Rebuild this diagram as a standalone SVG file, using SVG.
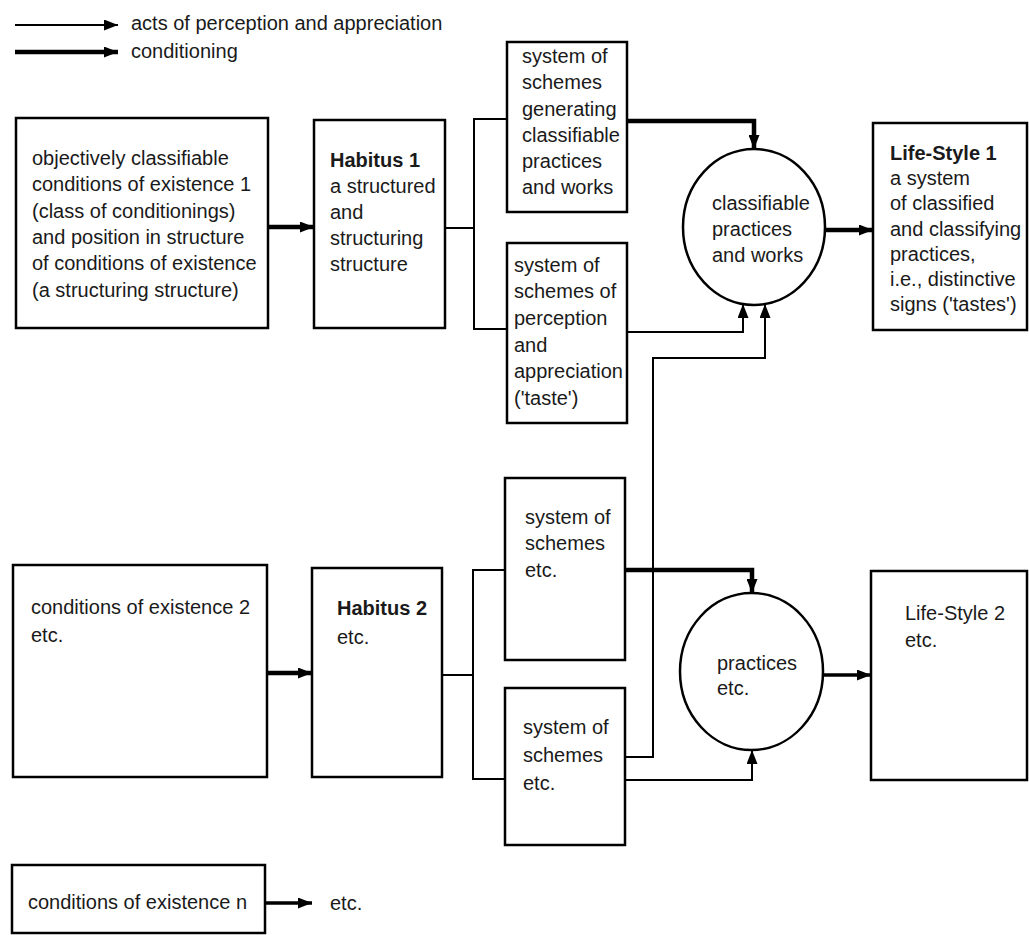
<svg xmlns="http://www.w3.org/2000/svg" width="1029" height="935" viewBox="0 0 1029 935">
<style>
text{font-family:"Liberation Sans",Arial,sans-serif;font-size:20px;fill:#1a1a1a}
.b{font-weight:bold}
.box{fill:#fff;stroke:#000;stroke-width:2.5}
.thin{fill:none;stroke:#000;stroke-width:2}
.thick{fill:none;stroke:#000;stroke-width:4.5}
.med{fill:none;stroke:#000;stroke-width:3.5}
</style>
<defs>
<marker id="ah" markerUnits="userSpaceOnUse" markerWidth="14" markerHeight="11" refX="14" refY="5.5" orient="auto">
<path d="M0,0 L14,5.5 L0,11 z" fill="#000"/>
</marker>
</defs>
<g id="legend">
<line class="thin" x1="15" y1="25" x2="118" y2="25" marker-end="url(#ah)"/>
<line class="thick" x1="15" y1="52" x2="118" y2="52" marker-end="url(#ah)"/>
<text x="131" y="30">acts of perception and appreciation</text>
<text x="131" y="58">conditioning</text>
</g>
<g id="connectors">
<line class="thick" x1="268" y1="227" x2="314" y2="227" marker-end="url(#ah)"/>
<line class="thin" x1="445" y1="228" x2="474" y2="228"/>
<path class="thin" d="M507,119 H474 V329 H507"/>
<path class="thick" d="M627,121 H754 V149" marker-end="url(#ah)"/>
<path class="thin" d="M627,332 H743 V304" marker-end="url(#ah)"/>
<path class="thin" d="M625,757 H653 V358 H765 V304" marker-end="url(#ah)"/>
<line class="thick" x1="825" y1="230" x2="873" y2="230" marker-end="url(#ah)"/>
<line class="thick" x1="267" y1="673" x2="312" y2="673" marker-end="url(#ah)"/>
<line class="thin" x1="442" y1="675" x2="473" y2="675"/>
<path class="thin" d="M505,570 H473 V779 H505"/>
<path class="thick" d="M625,570 H752 V593" marker-end="url(#ah)"/>
<path class="thin" d="M625,780 H752 V750" marker-end="url(#ah)"/>
<line class="med" x1="823" y1="675" x2="871" y2="675" marker-end="url(#ah)"/>
<line class="med" x1="265" y1="903" x2="312" y2="903" marker-end="url(#ah)"/>
</g>
<g id="conditions1">
<rect class="box" x="16" y="118" width="252" height="210"/>
<text x="32" y="165">objectively classifiable</text>
<text x="32" y="191">conditions of existence 1</text>
<text x="32" y="218">(class of conditionings)</text>
<text x="32" y="244">and position in structure</text>
<text x="32" y="270">of conditions of existence</text>
<text x="32" y="297">(a structuring structure)</text>
</g>
<g id="habitus1">
<rect class="box" x="314" y="120" width="131" height="208"/>
<text x="330" y="167" class="b">Habitus 1</text>
<text x="330" y="193">a structured</text>
<text x="330" y="219">and</text>
<text x="330" y="245">structuring</text>
<text x="330" y="271">structure</text>
</g>
<g id="schemes-generating">
<rect class="box" x="507" y="42" width="120" height="170"/>
<text x="522" y="63">system of</text>
<text x="522" y="89">schemes</text>
<text x="522" y="116">generating</text>
<text x="522" y="142">classifiable</text>
<text x="522" y="168">practices</text>
<text x="522" y="194">and works</text>
</g>
<g id="schemes-perception">
<rect class="box" x="507" y="243" width="120" height="180"/>
<text x="514" y="272">system of</text>
<text x="514" y="298">schemes of</text>
<text x="514" y="325">perception</text>
<text x="514" y="352">and</text>
<text x="514" y="378">appreciation</text>
<text x="514" y="405">('taste')</text>
</g>
<g id="practices1">
<ellipse class="box" cx="754" cy="227" rx="71" ry="78"/>
<text x="712" y="210">classifiable</text>
<text x="712" y="236">practices</text>
<text x="712" y="262">and works</text>
</g>
<g id="lifestyle1">
<rect class="box" x="873" y="123" width="154" height="207"/>
<text x="890" y="160" class="b">Life-Style 1</text>
<text x="890" y="185">a system</text>
<text x="890" y="210">of classified</text>
<text x="890" y="236">and classifying</text>
<text x="890" y="261">practices,</text>
<text x="890" y="286">i.e., distinctive</text>
<text x="890" y="311">signs ('tastes')</text>
</g>
<g id="conditions2">
<rect class="box" x="13" y="565" width="254" height="212"/>
<text x="31" y="614">conditions of existence 2</text>
<text x="31" y="642">etc.</text>
</g>
<g id="habitus2">
<rect class="box" x="312" y="568" width="130" height="209"/>
<text x="337" y="615" class="b">Habitus 2</text>
<text x="337" y="644">etc.</text>
</g>
<g id="schemes2a">
<rect class="box" x="505" y="478" width="120" height="182"/>
<text x="525" y="524">system of</text>
<text x="525" y="550">schemes</text>
<text x="525" y="577">etc.</text>
</g>
<g id="schemes2b">
<rect class="box" x="505" y="688" width="120" height="157"/>
<text x="523" y="734">system of</text>
<text x="523" y="762">schemes</text>
<text x="523" y="790">etc.</text>
</g>
<g id="practices2">
<ellipse class="box" cx="751.5" cy="671.5" rx="71.5" ry="78.5"/>
<text x="717" y="670">practices</text>
<text x="717" y="695">etc.</text>
</g>
<g id="lifestyle2">
<rect class="box" x="871" y="571" width="156" height="209"/>
<text x="905" y="620">Life-Style 2</text>
<text x="905" y="647">etc.</text>
</g>
<g id="conditionsn">
<rect class="box" x="12" y="865" width="253" height="68"/>
<text x="28" y="909">conditions of existence n</text>
<text x="330" y="910">etc.</text>
</g>
</svg>
